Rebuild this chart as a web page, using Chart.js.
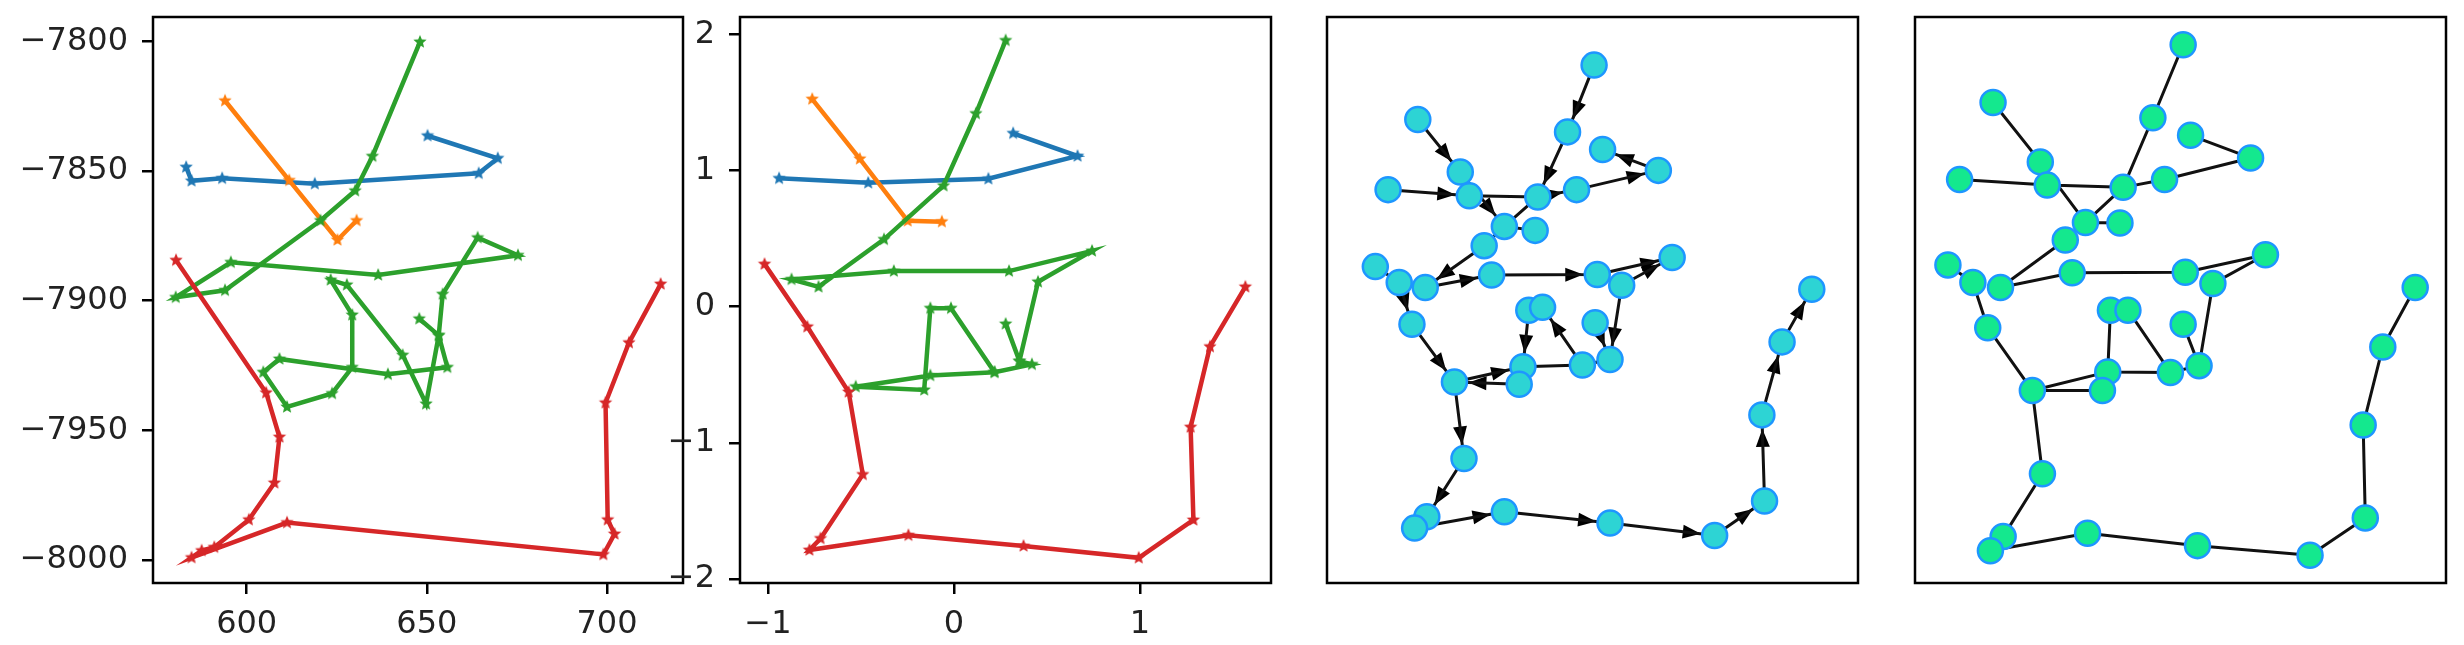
<!DOCTYPE html>
<html>
<head>
<meta charset="utf-8">
<script src="https://cdn.jsdelivr.net/npm/chart.js@4.4.0/dist/chart.umd.min.js"></script>
<style>
    body { margin: 0; background: #fff; width: 2464px; height: 645px; overflow: hidden; position: relative; }
    canvas { position: absolute; top: 0; }
</style>
</head>
<body>
<canvas id="traj1" width="720" height="645" style="left:0px"></canvas>
<canvas id="traj2" width="700" height="645" style="left:620px"></canvas>
<canvas id="graph3" width="600" height="645" style="left:1290px"></canvas>
<canvas id="graph4" width="584" height="645" style="left:1880px"></canvas>
<script>
// Panel 1 - raw coordinates
const p1XRange = [574.0, 721.1];
const p1YRange = [-8008.9, -7790.6];
const p1XTicks = [600, 650, 700];
const p1YTicks = [-8000, -7950, -7900, -7850, -7800];

const p1BlueX = [650.2, 669.7, 664.4, 618.9, 593.2, 584.7, 583.2];
const p1BlueY = [-7836.4, -7845.1, -7850.9, -7854.9, -7852.8, -7853.8, -7848.5];
const p1OrangeX = [594.0, 611.8, 625.2, 630.5];
const p1OrangeY = [-7822.9, -7853.6, -7876.6, -7869.1];
const p1GreenX = [648.1, 634.9, 630.1, 620.5, 594.0, 580.3, 595.6, 636.5, 675.3, 664.1, 654.4, 653.3, 649.8,
    643.3, 627.8, 623.3, 629.3, 629.3, 623.7, 611.2, 604.6, 609.1, 639.2, 655.7, 653.3, 647.9];
const p1GreenY = [-7800.2, -7844.3, -7857.6, -7869.1, -7896.0, -7898.7, -7885.2, -7890.1, -7882.5, -7875.7,
    -7897.5, -7913.4, -7939.8, -7921.0, -7893.9, -7892.0, -7905.5, -7925.7, -7935.8, -7941.0, -7927.6,
    -7922.5, -7928.4, -7925.7, -7913.4, -7907.0];
const p1RedX = [580.4, 605.4, 609.1, 607.7, 600.6, 591.0, 587.5, 584.7, 611.2, 699.0, 702.1, 700.2, 699.6, 706.1, 714.9];
const p1RedY = [-7884.4, -7935.5, -7952.6, -7970.3, -7984.5, -7995.1, -7996.4, -7999.1, -7985.6, -7997.9,
    -7990.0, -7984.5, -7939.4, -7916.2, -7893.6];

// Panel 2 - normalised coordinates
const p2XRange = [-1.15, 1.704];
const p2YRange = [-2.03, 2.127];
const p2XTicks = [-1, 0, 1];
const p2YTicks = [-2, -1, 0, 1, 2];

const p2BlueX = [0.318, 0.664, 0.185, -0.461, -0.940];
const p2BlueY = [1.273, 1.106, 0.939, 0.909, 0.942];
const p2OrangeX = [-0.762, -0.506, -0.249, -0.065];
const p2OrangeY = [1.524, 1.085, 0.630, 0.624];
const p2GreenX = [0.278, 0.118, -0.056, -0.376, -0.728, -0.873, -0.323, 0.296, 0.742, 0.452, 0.352, 0.278,
    0.352, 0.419, 0.218, -0.127, -0.528, -0.160, -0.127, -0.016, 0.218];
const p2GreenY = [1.955, 1.418, 0.888, 0.494, 0.145, 0.200, 0.261, 0.261, 0.409, 0.182, -0.400, -0.127,
    -0.400, -0.424, -0.482, -0.506, -0.588, -0.612, -0.012, -0.012, -0.482];
const p2RedX = [-1.018, -0.788, -0.566, -0.490, -0.717, -0.777, -0.245, 0.374, 0.993, 1.287, 1.272, 1.376, 1.566];
const p2RedY = [0.312, -0.148, -0.627, -1.233, -1.703, -1.788, -1.679, -1.758, -1.845, -1.567, -0.885, -0.294, 0.145];

// Panels 3 and 4 - graph node layouts (fraction of the box)
const net3X = [0.503, 0.171, 0.453, 0.519, 0.624, 0.251, 0.115, 0.268, 0.397, 0.470, 0.334, 0.392, 0.296,
    0.091, 0.136, 0.185, 0.310, 0.509, 0.650, 0.555, 0.380, 0.406, 0.505, 0.160, 0.240, 0.369, 0.362,
    0.481, 0.533, 0.258, 0.188, 0.165, 0.334, 0.533, 0.730, 0.824, 0.819, 0.857, 0.913];
const net3Y = [0.915, 0.819, 0.797, 0.766, 0.729, 0.726, 0.695, 0.684, 0.682, 0.695, 0.630, 0.623, 0.596,
    0.559, 0.531, 0.522, 0.544, 0.545, 0.575, 0.526, 0.482, 0.487, 0.460, 0.457, 0.355, 0.382, 0.351,
    0.385, 0.395, 0.220, 0.117, 0.097, 0.126, 0.106, 0.084, 0.145, 0.297, 0.426, 0.519];
const net4X = [0.505, 0.147, 0.448, 0.519, 0.632, 0.236, 0.084, 0.249, 0.392, 0.470, 0.321, 0.386, 0.283,
    0.062, 0.109, 0.161, 0.296, 0.509, 0.660, 0.561, 0.368, 0.401, 0.505, 0.137, 0.221, 0.363, 0.353,
    0.481, 0.535, 0.240, 0.166, 0.142, 0.325, 0.532, 0.744, 0.848, 0.844, 0.881, 0.942];
const net4Y = [0.951, 0.849, 0.822, 0.791, 0.751, 0.744, 0.713, 0.703, 0.699, 0.713, 0.637, 0.636, 0.606,
    0.562, 0.531, 0.522, 0.548, 0.549, 0.580, 0.529, 0.482, 0.482, 0.457, 0.451, 0.340, 0.373, 0.340,
    0.372, 0.384, 0.193, 0.082, 0.057, 0.088, 0.066, 0.049, 0.115, 0.279, 0.417, 0.522];

// Edges: [source, target] node indexes
const arrowEdges = [[0, 2], [2, 8], [1, 5], [5, 10], [6, 7], [8, 9], [9, 4], [4, 3], [12, 15], [15, 16],
    [16, 17], [17, 18], [19, 18], [19, 28], [22, 28], [14, 23], [23, 24], [24, 29], [29, 30], [31, 32],
    [32, 33], [33, 34], [34, 35], [35, 36], [36, 37], [37, 38], [24, 25], [26, 24], [20, 25], [27, 21]];
const plainEdges = [[7, 8], [8, 10], [10, 12], [10, 11], [13, 14], [25, 27], [30, 31], [20, 21], [27, 28]];

// Colours
const COLORS = {
    blue: '#1f77b4',
    orange: '#ff7f0e',
    green: '#2ca02c',
    red: '#d62728',
    node3: '#2dd4d4',
    node4: '#14e88e',
    nodeEdge: '#1e96ff'
};

Chart.defaults.font.family = "'DejaVu Sans', sans-serif";
Chart.defaults.font.size = 32;
Chart.defaults.color = '#222';

function zip(xs, ys) {
    return xs.map((x, i) => ({ x: x, y: ys[i] }));
}

function fmtTick(v) {
    return String(v).replace('-', '\u2212');
}

// Filled 5-point star like matplotlib's '*' marker
function starIcon(color, r) {
    const c = document.createElement('canvas');
    const s = Math.ceil(r * 2) + 2;
    c.width = c.height = s;
    const g = c.getContext('2d');
    g.fillStyle = color;
    g.beginPath();
    for (let k = 0; k < 10; k++) {
        const rad = k % 2 ? r * 0.45 : r;
        const ang = -Math.PI / 2 + k * Math.PI / 5;
        g.lineTo(s / 2 + rad * Math.cos(ang), s / 2 + rad * Math.sin(ang));
    }
    g.closePath();
    g.fill();
    return c;
}

// Black frame around the plot area
const frameBox = {
    id: 'frameBox',
    afterDatasetsDraw(chart) {
        const a = chart.chartArea;
        const ctx = chart.ctx;
        ctx.save();
        ctx.strokeStyle = '#000';
        ctx.lineWidth = 2.5;
        ctx.strokeRect(a.left, a.top, a.right - a.left, a.bottom - a.top);
        ctx.restore();
    }
};

function trajDataset(xs, ys, color, order) {
    return {
        data: zip(xs, ys),
        showLine: true,
        borderColor: color,
        borderWidth: 4.5,
        tension: 0,
        pointStyle: starIcon(color, 7),
        pointRadius: 7,
        order: order
    };
}

function trajAxis(range, ticks, isX, fixed) {
    return {
        type: 'linear',
        min: range[0],
        max: range[1],
        grid: { drawOnChartArea: false, drawTicks: true, tickLength: 11, color: '#000', lineWidth: 2.5 },
        border: { display: false },
        ticks: { padding: isX ? 11 : 14, autoSkip: false, maxRotation: 0, minRotation: 0, callback: fmtTick },
        afterBuildTicks: s => { s.ticks = ticks.map(v => ({ value: v })); },
        afterFit: s => {
            if (isX) { s.height = fixed; s.paddingLeft = 0; s.paddingRight = 0; }
            else { s.width = fixed; s.paddingTop = 0; s.paddingBottom = 0; }
        }
    };
}

function trajChart(id, series, xRange, yRange, xTicks, yTicks, yAxisWidth, rightPad) {
    new Chart(document.getElementById(id), {
        type: 'scatter',
        data: { datasets: series },
        options: {
            responsive: false,
            animation: false,
            devicePixelRatio: 1,
            layout: { padding: { top: 17, right: rightPad, left: 0, bottom: 0 } },
            plugins: { legend: { display: false }, tooltip: { enabled: false } },
            scales: {
                x: trajAxis(xRange, xTicks, true, 62),
                y: trajAxis(yRange, yTicks, false, yAxisWidth)
            }
        },
        plugins: [frameBox]
    });
}

// Panel 1
trajChart('traj1', [
    trajDataset(p1BlueX, p1BlueY, COLORS.blue, 3),
    trajDataset(p1OrangeX, p1OrangeY, COLORS.orange, 2),
    trajDataset(p1GreenX, p1GreenY, COLORS.green, 1),
    trajDataset(p1RedX, p1RedY, COLORS.red, 0)
], p1XRange, p1YRange, p1XTicks, p1YTicks, 153, 37);

// Panel 2
trajChart('traj2', [
    trajDataset(p2BlueX, p2BlueY, COLORS.blue, 3),
    trajDataset(p2OrangeX, p2OrangeY, COLORS.orange, 2),
    trajDataset(p2GreenX, p2GreenY, COLORS.green, 1),
    trajDataset(p2RedX, p2RedY, COLORS.red, 0)
], p2XRange, p2YRange, p2XTicks, p2YTicks, 120, 49);

// Arrow heads for the directed graph
function arrowPlugin(nx, ny) {
    return {
        id: 'arrowHeads',
        beforeDatasetsDraw(chart) {
            const xs = chart.scales.x;
            const ys = chart.scales.y;
            const ctx = chart.ctx;
            ctx.save();
            ctx.fillStyle = '#000';
            arrowEdges.forEach(([a, b]) => {
                const x0 = xs.getPixelForValue(nx[a]), y0 = ys.getPixelForValue(ny[a]);
                const x1 = xs.getPixelForValue(nx[b]), y1 = ys.getPixelForValue(ny[b]);
                const len = Math.hypot(x1 - x0, y1 - y0);
                const ux = (x1 - x0) / len, uy = (y1 - y0) / len;
                const tx = x1 - ux * 14, ty = y1 - uy * 14;
                const bx = tx - ux * 18, by = ty - uy * 18;
                ctx.beginPath();
                ctx.moveTo(tx, ty);
                ctx.lineTo(bx - uy * 7, by + ux * 7);
                ctx.lineTo(bx + uy * 7, by - ux * 7);
                ctx.closePath();
                ctx.fill();
            });
            ctx.restore();
        }
    };
}

function edgeData(nx, ny) {
    return arrowEdges.concat(plainEdges).flatMap(([a, b]) => [
        { x: nx[a], y: ny[a] },
        { x: nx[b], y: ny[b] },
        { x: null, y: null }
    ]);
}

function graphChart(id, nx, ny, fill, padLeft, padRight, directed) {
    const hidden = { type: 'linear', min: 0, max: 1, display: false };
    new Chart(document.getElementById(id), {
        type: 'scatter',
        data: {
            datasets: [
                {
                    data: zip(nx, ny),
                    pointRadius: 12.5,
                    pointBackgroundColor: fill,
                    pointBorderColor: COLORS.nodeEdge,
                    pointBorderWidth: 2.5,
                    order: 0
                },
                {
                    data: edgeData(nx, ny),
                    showLine: true,
                    spanGaps: false,
                    borderColor: '#111',
                    borderWidth: 3,
                    pointRadius: 0,
                    order: 1
                }
            ]
        },
        options: {
            responsive: false,
            animation: false,
            devicePixelRatio: 1,
            layout: { padding: { top: 17, bottom: 62, left: padLeft, right: padRight } },
            plugins: { legend: { display: false }, tooltip: { enabled: false } },
            scales: { x: hidden, y: hidden }
        },
        plugins: directed ? [frameBox, arrowPlugin(nx, ny)] : [frameBox]
    });
}

// Panel 3 (directed) and panel 4 (undirected)
graphChart('graph3', net3X, net3Y, COLORS.node3, 37, 32, true);
graphChart('graph4', net4X, net4Y, COLORS.node4, 35, 18, false);
</script>
</body>
</html>
